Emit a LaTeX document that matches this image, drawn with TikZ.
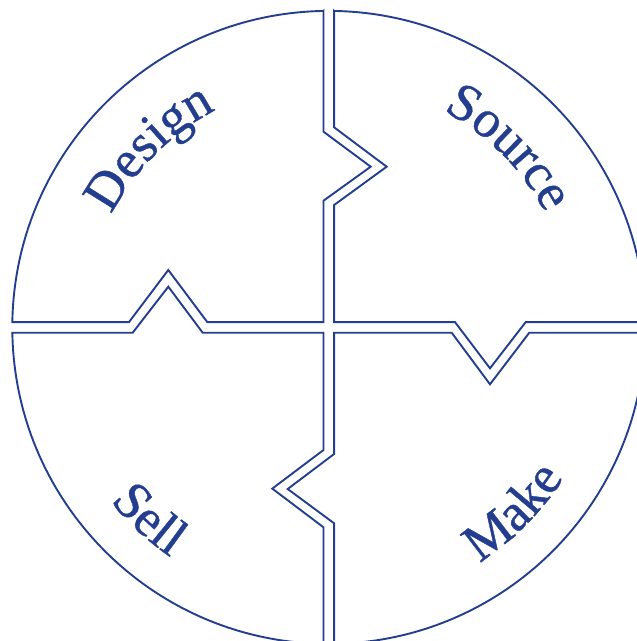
\documentclass[tikz,border=0pt]{standalone}
\usepackage{fontspec}
\setmainfont{Liberation Serif}
\newfontfamily\lblfam[FakeBold=0.8]{Liberation Serif}
\usetikzlibrary{decorations.text}
\definecolor{dblue}{RGB}{36,62,143}
\newcommand\lblfont{\lblfam\fontsize{53}{60}\selectfont}
\tikzset{
  piece/.style={draw=dblue, line width=1.9pt, line join=miter},
  lbl/.style={decorate, decoration={text along path, text align=center, text color=dblue}}
}
\begin{document}
\begin{tikzpicture}[x=1pt,y=1pt]
\useasboundingbox (-328.8,-313.6) rectangle (308.2,327.4);
\clip (-328.8,-313.6) rectangle (308.2,327.4);
\coordinate (c) at (0,0);
% Design (top-left)
\draw[piece] (-5.3,316.46) -- (-5.3,195.7) -- (41.9,160.7) -- (-5.3,126.7) -- (-5.3,5.3)
  -- (-121.5,5.3) -- (-160.5,57.4) -- (-199.8,5.3) -- (-316.46,5.3)
  arc[start angle=179.04, end angle=90.96, radius=316.5] -- cycle;
% Source (top-right)
\draw[piece] (5.3,316.46) -- (5.3,200.1) -- (57.9,160.7) -- (5.3,122.4) -- (5.3,5.3)
  -- (126.2,5.3) -- (161.2,-40.9) -- (196.9,5.3) -- (316.46,5.3)
  arc[start angle=0.96, end angle=89.04, radius=316.5] -- cycle;
% Make (bottom-right)
\draw[piece] (5.3,-5.3) -- (122.9,-5.3) -- (161.2,-56.9) -- (200.5,-5.3) -- (316.46,-5.3)
  arc[start angle=-0.96, end angle=-89.04, radius=316.5]
  -- (5.3,-195.9) -- (-41.1,-161.6) -- (5.3,-126.6) -- cycle;
% Sell (bottom-left)
\draw[piece] (-5.3,-5.3) -- (-5.3,-122.6) -- (-56.5,-161.2) -- (-5.3,-199.9) -- (-5.3,-316.46)
  arc[start angle=269.04, end angle=180.96, radius=316.5]
  -- (-196.1,-5.3) -- (-160.5,40.7) -- (-126.1,-5.3) -- cycle;
% labels
\path[lbl, decoration={text={|\lblfont|Design}}] (175:245) arc[start angle=175, end angle=95, radius=245];
\path[lbl, decoration={text={|\lblfont|Source}}] (85:245) arc[start angle=85, end angle=5, radius=245];
\path[lbl, decoration={text={|\lblfont|Sell}}] (185:279) arc[start angle=185, end angle=269, radius=279];
\path[lbl, decoration={text={|\lblfont|Make}}] (275:279) arc[start angle=275, end angle=355, radius=279];
\end{tikzpicture}
\end{document}
